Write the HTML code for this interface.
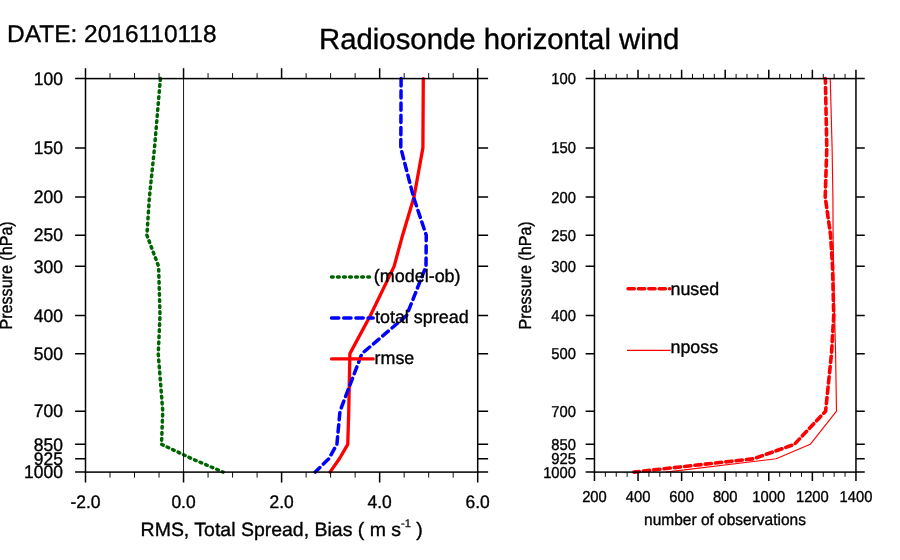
<!DOCTYPE html>
<html><head><meta charset="utf-8"><title>Radiosonde horizontal wind</title>
<style>html,body{margin:0;padding:0;background:#fff;}svg{display:block;will-change:transform;}text{text-rendering:geometricPrecision;font-family:"Liberation Sans",Arial,Helvetica,sans-serif;fill:#000;stroke:#000;stroke-width:0.35;}</style>
</head><body>
<svg width="900" height="560" viewBox="0 0 900 560">
<rect x="0" y="0" width="900" height="560" fill="#ffffff"/>
<!-- titles -->
<text transform="translate(7.0 42.3) scale(1.012 1)" font-size="24.2" text-anchor="start" stroke-width="0.6">DATE: 2016110118</text>
<text transform="translate(499.2 48.5) scale(1.005 1)" font-size="29.2" text-anchor="middle" stroke-width="0.7">Radiosonde horizontal wind</text>
<!-- curves -->
<g fill="none" stroke-linejoin="round">
<polyline points="423.30,78.60 422.90,147.89 414.00,197.06 402.60,235.19 394.10,266.35 370.40,315.51 349.90,353.64 348.75,411.15 347.75,444.33 339.40,458.78 330.00,472.10" stroke="#ff0000" stroke-width="3.3" stroke-linecap="round"/>
<polyline points="401.10,78.60 400.80,147.89 413.50,197.06 426.25,235.19 426.00,266.35 406.60,315.51 361.90,353.64 340.00,411.15 336.90,444.33 328.75,458.78 315.25,472.10" stroke="#0000ff" stroke-width="3.5" stroke-dasharray="7.3 4.9" stroke-linecap="round"/>
<polyline points="160.40,78.60 154.50,147.89 149.40,197.06 146.90,235.19 158.60,266.35 160.00,315.51 158.25,353.64 162.75,411.15 161.50,444.33 192.00,458.78 223.10,472.10" stroke="#006400" stroke-width="3.5" stroke-dasharray="1.7 4.3478" stroke-linecap="round"/>
<polyline points="830.25,78.60 832.10,147.89 832.90,197.06 833.10,235.19 833.60,266.35 834.60,315.51 835.60,353.64 836.50,411.15 810.25,444.33 776.20,458.78 666.00,472.10" stroke="#ff0000" stroke-width="1.15"/>
<polyline points="825.35,78.60 826.80,147.89 825.20,197.06 830.60,235.19 832.50,266.35 833.75,315.51 831.50,353.64 825.60,411.15 794.40,444.33 753.50,458.78 634.00,472.10" stroke="#ff0000" stroke-width="3.6" stroke-dasharray="6.2 4.16" stroke-dashoffset="1.5" stroke-linecap="round"/>
</g>
<!-- left plot -->
<line x1="183.55" y1="78.6" x2="183.55" y2="472.1" stroke="#000" stroke-width="0.9"/>
<g stroke="#000" stroke-width="1.5" fill="none" stroke-linecap="butt">
<rect x="85.5" y="78.6" width="392.20" height="393.50"/>
<path d="M75.10 78.60H85.5M477.7 78.60H488.10M75.10 147.89H85.5M477.7 147.89H488.10M75.10 197.06H85.5M477.7 197.06H488.10M75.10 235.19H85.5M477.7 235.19H488.10M75.10 266.35H85.5M477.7 266.35H488.10M75.10 315.51H85.5M477.7 315.51H488.10M75.10 353.64H85.5M477.7 353.64H488.10M75.10 411.15H85.5M477.7 411.15H488.10M75.10 444.33H85.5M477.7 444.33H488.10M75.10 458.78H85.5M477.7 458.78H488.10M75.10 472.10H85.5M477.7 472.10H488.10M85.50 78.6V68.20M85.50 472.1V482.50M183.55 78.6V68.20M183.55 472.1V482.50M281.60 78.6V68.20M281.60 472.1V482.50M379.65 78.6V68.20M379.65 472.1V482.50M477.70 78.6V68.20M477.70 472.1V482.50"/>
<path stroke-width="0.95" d="M110.01 78.6V73.10M110.01 472.1V477.60M134.53 78.6V73.10M134.53 472.1V477.60M159.04 78.6V73.10M159.04 472.1V477.60M208.06 78.6V73.10M208.06 472.1V477.60M232.57 78.6V73.10M232.57 472.1V477.60M257.09 78.6V73.10M257.09 472.1V477.60M306.11 78.6V73.10M306.11 472.1V477.60M330.62 78.6V73.10M330.62 472.1V477.60M355.14 78.6V73.10M355.14 472.1V477.60M404.16 78.6V73.10M404.16 472.1V477.60M428.68 78.6V73.10M428.68 472.1V477.60M453.19 78.6V73.10M453.19 472.1V477.60"/>
</g>
<text transform="translate(62.9 84.9) scale(0.965 1)" font-size="18.1" text-anchor="end">100</text>
<text transform="translate(62.9 154.19) scale(0.965 1)" font-size="18.1" text-anchor="end">150</text>
<text transform="translate(62.9 203.35) scale(0.965 1)" font-size="18.1" text-anchor="end">200</text>
<text transform="translate(62.9 241.49) scale(0.965 1)" font-size="18.1" text-anchor="end">250</text>
<text transform="translate(62.9 272.65) scale(0.965 1)" font-size="18.1" text-anchor="end">300</text>
<text transform="translate(62.9 321.81) scale(0.965 1)" font-size="18.1" text-anchor="end">400</text>
<text transform="translate(62.9 359.94) scale(0.965 1)" font-size="18.1" text-anchor="end">500</text>
<text transform="translate(62.9 417.44) scale(0.965 1)" font-size="18.1" text-anchor="end">700</text>
<text transform="translate(62.9 450.63) scale(0.965 1)" font-size="18.1" text-anchor="end">850</text>
<text transform="translate(62.9 465.08) scale(0.965 1)" font-size="18.1" text-anchor="end">925</text>
<text transform="translate(62.9 478.4) scale(0.965 1)" font-size="18.1" text-anchor="end">1000</text>
<text transform="translate(85.5 507.9) scale(0.965 1)" font-size="18.1" text-anchor="middle">-2.0</text>
<text transform="translate(183.55 507.9) scale(0.965 1)" font-size="18.1" text-anchor="middle">0.0</text>
<text transform="translate(281.6 507.9) scale(0.965 1)" font-size="18.1" text-anchor="middle">2.0</text>
<text transform="translate(379.65 507.9) scale(0.965 1)" font-size="18.1" text-anchor="middle">4.0</text>
<text transform="translate(477.7 507.9) scale(0.965 1)" font-size="18.1" text-anchor="middle">6.0</text>
<!-- right plot -->
<g stroke="#000" stroke-width="1.5" fill="none" stroke-linecap="butt">
<rect x="594.45" y="78.6" width="261.50" height="393.50"/>
<path d="M585.65 78.60H594.45M855.95 78.60H864.75M585.65 147.89H594.45M855.95 147.89H864.75M585.65 197.06H594.45M855.95 197.06H864.75M585.65 235.19H594.45M855.95 235.19H864.75M585.65 266.35H594.45M855.95 266.35H864.75M585.65 315.51H594.45M855.95 315.51H864.75M585.65 353.64H594.45M855.95 353.64H864.75M585.65 411.15H594.45M855.95 411.15H864.75M585.65 444.33H594.45M855.95 444.33H864.75M585.65 458.78H594.45M855.95 458.78H864.75M585.65 472.10H594.45M855.95 472.10H864.75M594.45 78.6V69.80M594.45 472.1V480.90M638.03 78.6V69.80M638.03 472.1V480.90M681.62 78.6V69.80M681.62 472.1V480.90M725.20 78.6V69.80M725.20 472.1V480.90M768.78 78.6V69.80M768.78 472.1V480.90M812.37 78.6V69.80M812.37 472.1V480.90M855.95 78.6V69.80M855.95 472.1V480.90"/>
<path stroke-width="0.95" d="M605.35 78.6V73.90M605.35 472.1V476.80M616.24 78.6V73.90M616.24 472.1V476.80M627.14 78.6V73.90M627.14 472.1V476.80M648.93 78.6V73.90M648.93 472.1V476.80M659.83 78.6V73.90M659.83 472.1V476.80M670.72 78.6V73.90M670.72 472.1V476.80M692.51 78.6V73.90M692.51 472.1V476.80M703.41 78.6V73.90M703.41 472.1V476.80M714.30 78.6V73.90M714.30 472.1V476.80M736.10 78.6V73.90M736.10 472.1V476.80M746.99 78.6V73.90M746.99 472.1V476.80M757.89 78.6V73.90M757.89 472.1V476.80M779.68 78.6V73.90M779.68 472.1V476.80M790.58 78.6V73.90M790.58 472.1V476.80M801.47 78.6V73.90M801.47 472.1V476.80M823.26 78.6V73.90M823.26 472.1V476.80M834.16 78.6V73.90M834.16 472.1V476.80M845.05 78.6V73.90M845.05 472.1V476.80"/>
</g>
<text transform="translate(576.0 84.1) scale(0.935 1)" font-size="15.8" text-anchor="end">100</text>
<text transform="translate(576.0 153.39) scale(0.935 1)" font-size="15.8" text-anchor="end">150</text>
<text transform="translate(576.0 202.55) scale(0.935 1)" font-size="15.8" text-anchor="end">200</text>
<text transform="translate(576.0 240.69) scale(0.935 1)" font-size="15.8" text-anchor="end">250</text>
<text transform="translate(576.0 271.85) scale(0.935 1)" font-size="15.8" text-anchor="end">300</text>
<text transform="translate(576.0 321.01) scale(0.935 1)" font-size="15.8" text-anchor="end">400</text>
<text transform="translate(576.0 359.14) scale(0.935 1)" font-size="15.8" text-anchor="end">500</text>
<text transform="translate(576.0 416.64) scale(0.935 1)" font-size="15.8" text-anchor="end">700</text>
<text transform="translate(576.0 449.82) scale(0.935 1)" font-size="15.8" text-anchor="end">850</text>
<text transform="translate(576.0 464.28) scale(0.935 1)" font-size="15.8" text-anchor="end">925</text>
<text transform="translate(576.0 477.6) scale(0.935 1)" font-size="15.8" text-anchor="end">1000</text>
<text transform="translate(594.45 502.3) scale(0.935 1)" font-size="15.8" text-anchor="middle">200</text>
<text transform="translate(638.03 502.3) scale(0.935 1)" font-size="15.8" text-anchor="middle">400</text>
<text transform="translate(681.62 502.3) scale(0.935 1)" font-size="15.8" text-anchor="middle">600</text>
<text transform="translate(725.2 502.3) scale(0.935 1)" font-size="15.8" text-anchor="middle">800</text>
<text transform="translate(768.78 502.3) scale(0.935 1)" font-size="15.8" text-anchor="middle">1000</text>
<text transform="translate(812.37 502.3) scale(0.935 1)" font-size="15.8" text-anchor="middle">1200</text>
<text transform="translate(855.95 502.3) scale(0.935 1)" font-size="15.8" text-anchor="middle">1400</text>
<!-- axis titles -->
<text transform="translate(140.6 535.7) scale(1.01 1)" font-size="19.3" text-anchor="start" stroke-width="0.45">RMS, Total Spread, Bias ( m s<tspan font-size="11" dy="-8.8" stroke-width="0.25">-1</tspan><tspan dy="8.8"> )</tspan></text>
<text transform="translate(725.0 524.9) scale(0.975 1)" font-size="15.9" text-anchor="middle" stroke-width="0.35">number of observations</text>
<text transform="translate(12.0 275.4) rotate(-90) scale(0.925 1)" font-size="17.4" text-anchor="middle" stroke-width="0.35">Pressure (hPa)</text>
<text transform="translate(530.9 275.4) rotate(-90) scale(0.925 1)" font-size="17.4" text-anchor="middle" stroke-width="0.35">Pressure (hPa)</text>
<!-- legends -->
<g fill="none">
<path d="M331.5 276.9H369.7" stroke="#006400" stroke-width="3.5" stroke-dasharray="1.7 4.3478" stroke-linecap="round"/>
<path d="M331.5 317.9H373.2" stroke="#0000ff" stroke-width="3.5" stroke-dasharray="7.3 4.9" stroke-linecap="round"/>
<path d="M331.5 358.9H373.2" stroke="#ff0000" stroke-width="3.3" stroke-linecap="round"/>
<path d="M628.1 288.7H669.6" stroke="#ff0000" stroke-width="3.6" stroke-dasharray="6.2 4.16" stroke-linecap="round"/>
<path d="M627 350.4H670.6" stroke="#ff0000" stroke-width="1.15"/>
</g>
<text transform="translate(373.8 281.8) scale(0.997 1)" font-size="18.0" text-anchor="start">(model-ob)</text>
<text transform="translate(375.0 322.7) scale(0.995 1)" font-size="18.0" text-anchor="start">total spread</text>
<text transform="translate(374.6 363.5) scale(0.99 1)" font-size="18.0" text-anchor="start">rmse</text>
<text transform="translate(670.5 294.9) scale(0.992 1)" font-size="18.0" text-anchor="start">nused</text>
<text transform="translate(670.5 353.3) scale(0.992 1)" font-size="18.0" text-anchor="start">nposs</text>
</svg></body></html>
